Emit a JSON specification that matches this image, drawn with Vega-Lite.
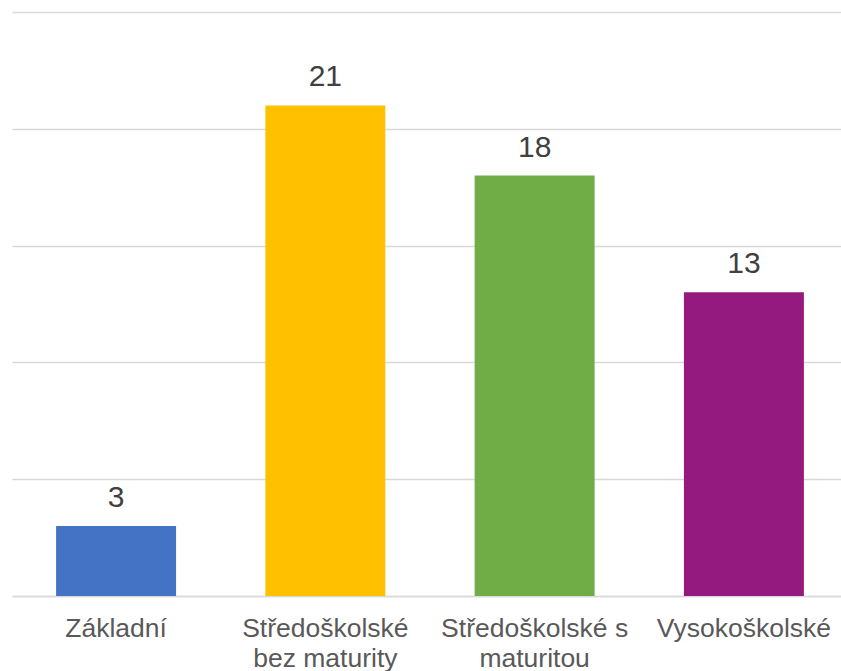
{
  "$schema": "https://vega.github.io/schema/vega-lite/v6.json",
  "width": 829,
  "height": 584,
  "autosize": {"type": "none"},
  "padding": {"left": 12, "top": 12, "right": 0, "bottom": 75},
  "background": "white",
  "config": {
    "view": {"stroke": null},
    "font": "Liberation Sans"
  },
  "data": {
    "values": [
      {"vzdelani": "Základní", "pocet": 3},
      {"vzdelani": "Středoškolské bez maturity", "pocet": 21},
      {"vzdelani": "Středoškolské s maturitou", "pocet": 18},
      {"vzdelani": "Vysokoškolské", "pocet": 13}
    ]
  },
  "encoding": {
    "x": {
      "field": "vzdelani",
      "type": "nominal",
      "sort": null,
      "scale": {"paddingInner": 0.4267, "paddingOuter": 0.194, "align": 0.543},
      "axis": {
        "title": null,
        "labelAngle": 0,
        "labelFont": "Liberation Sans",
        "labelFontSize": 26.5,
        "labelColor": "#595959",
        "labelLineHeight": 30,
        "labelPadding": 19,
        "labelLimit": 300,
        "ticks": false,
        "domainColor": "#D9D9D9",
        "domainWidth": 1.5,
        "labelExpr": "datum.value == 'Středoškolské bez maturity' ? ['Středoškolské', 'bez maturity'] : datum.value == 'Středoškolské s maturitou' ? ['Středoškolské s', 'maturitou'] : datum.value"
      }
    },
    "y": {
      "field": "pocet",
      "type": "quantitative",
      "scale": {"domain": [0, 25]},
      "axis": {
        "title": null,
        "labels": false,
        "ticks": false,
        "domain": false,
        "values": [0, 5, 10, 15, 20, 25],
        "gridColor": "#D9D9D9",
        "gridWidth": 1.5
      }
    }
  },
  "layer": [
    {
      "mark": {"type": "bar"},
      "encoding": {
        "color": {
          "field": "vzdelani",
          "type": "nominal",
          "sort": null,
          "legend": null,
          "scale": {"range": ["#4472C4", "#FFC000", "#70AD47", "#941A80"]}
        }
      }
    },
    {
      "mark": {
        "type": "text",
        "baseline": "alphabetic",
        "dy": -19,
        "fontSize": 30,
        "color": "#404040",
        "font": "Liberation Sans"
      },
      "encoding": {"text": {"field": "pocet", "type": "quantitative"}}
    }
  ]
}
